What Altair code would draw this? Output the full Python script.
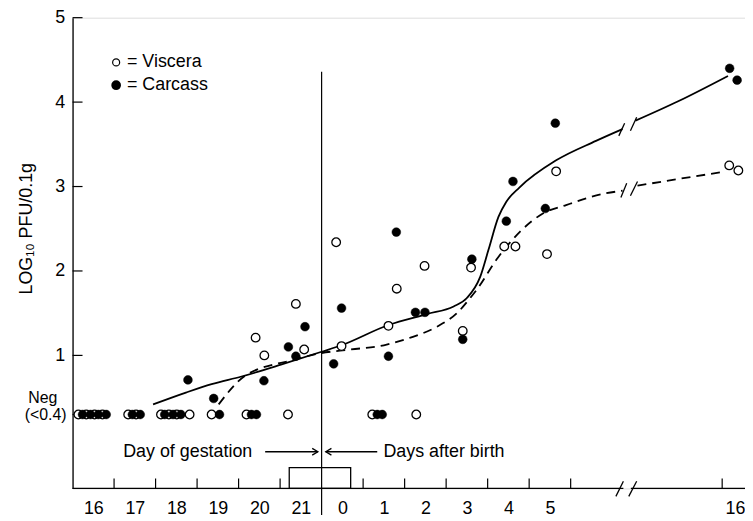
import json
import altair as alt
import pandas as pd

FONT = "Liberation Sans"

# ---- axis layout (x in "day slots": one unit = one day) ----
gest_labels = ["16", "17", "18", "19", "20", "21"]
gest_pos = [0.5, 1.5, 2.5, 3.5, 4.5, 5.5]
post_labels = ["0", "1", "2", "3", "4", "5", "16"]
post_pos = [6.5, 7.5, 8.5, 9.5, 10.5, 11.5, 15.96]
birth_pos = 6.0
x_tick_pos = [1, 2, 3, 4, 5, 7, 8, 9, 10, 11, 12, 15.65]
y_label_vals = [1, 2, 3, 4, 5]
y_tick_vals = [0.3, 1, 2, 3, 4, 5]
X_MAX = 16.2
Y_MIN = -0.576
Y_MAX = 5

# ---- data: log10 PFU / 0.1 g ----
carcass_x = [2.78, 3.40, 4.61, 5.20, 5.38, 5.60, 6.29, 6.48, 7.61, 7.80, 8.26, 8.49,
             9.40, 9.62, 10.45, 10.61, 11.39, 11.63, 15.83, 16.01]
carcass_y = [0.71, 0.49, 0.70, 1.10, 0.99, 1.34, 0.90, 1.56, 0.99, 2.46, 1.51, 1.51,
             1.19, 2.14, 2.59, 3.06, 2.74, 3.75, 4.40, 4.26]
viscera_x = [4.41, 4.62, 5.38, 5.58, 6.35, 6.48, 7.61, 7.81, 8.48, 9.40, 9.60, 10.40,
             10.67, 11.43, 11.65, 15.82, 16.04]
viscera_y = [1.21, 1.00, 1.61, 1.07, 2.34, 1.11, 1.35, 1.79, 2.06, 1.29, 2.04, 2.29,
             2.29, 2.20, 3.18, 3.25, 3.19]
NEG = 0.3
neg_viscera_x = [0.14, 0.33, 0.53, 0.72, 1.34, 1.53, 2.13, 2.32, 2.51, 2.82, 3.35,
                 4.19, 5.19, 7.22, 8.28]
neg_carcass_x = [0.24, 0.43, 0.62, 0.81, 1.44, 1.63, 2.22, 2.42, 2.61, 3.54, 4.31,
                 4.43, 7.34, 7.46]

# fitted curves (solid = carcass, dashed = viscera), broken at the axis break
solid_x1 = [1.94, 2.73, 3.35, 4.07, 5.02, 5.98, 6.48, 7.61, 8.54, 9.18, 9.50, 9.82,
            10.02, 10.26, 10.45, 10.77, 11.65, 12.61, 13.25]
solid_y1 = [0.42, 0.56, 0.66, 0.75, 0.89, 1.04, 1.12, 1.36, 1.49, 1.58, 1.68, 1.93,
            2.25, 2.64, 2.82, 2.99, 3.31, 3.54, 3.68]
solid_x2 = [13.56, 14.59, 15.79]
solid_y2 = [3.78, 4.01, 4.31]
dashed_x1 = [3.52, 4.16, 5.35, 5.91, 6.71, 7.50, 8.14, 8.78, 9.26, 9.58, 9.74, 10.25,
             10.77, 11.33, 11.89, 12.85, 13.25]
dashed_y1 = [0.42, 0.76, 0.95, 1.02, 1.07, 1.12, 1.21, 1.34, 1.50, 1.68, 1.78, 2.16,
             2.46, 2.68, 2.78, 2.92, 2.95]
dashed_x2 = [13.61, 14.60, 15.64]
dashed_y2 = [3.01, 3.09, 3.17]

# break marks (pairs of slashes)
slash_x = [13.09, 13.40, 13.16, 13.44, 13.21, 13.44]
slash_x2 = [13.27, 13.59, 13.30, 13.59, 13.35, 13.61]
slash_y = [-0.67, -0.67, 3.60, 3.66, 2.87, 2.89]
slash_y2 = [-0.49, -0.49, 3.75, 3.82, 3.04, 3.06]

# ---- build tables ----
pos_all = gest_pos + post_pos
lab_all = gest_labels + post_labels
label_expr = f"{json.dumps(lab_all)}[indexof({json.dumps(pos_all)}, datum.value)]"

xs = alt.Scale(domain=[0, X_MAX], nice=False, zero=False)
ys = alt.Scale(domain=[Y_MIN, Y_MAX], nice=False, zero=False)
xaxis = alt.Axis(values=pos_all, labelExpr=label_expr, ticks=False, domain=False,
                 grid=False, title=None, labelFontSize=18, labelPadding=11,
                 labelOverlap=False, labelFlush=False, labelBound=False)
yaxis = alt.Axis(values=y_label_vals, ticks=False, domain=True, domainColor="black",
                 domainWidth=1.3, grid=False, labelFontSize=18, labelPadding=8,
                 title="LOG₁₀ PFU/0.1g", titleFontSize=18, titleFontWeight="normal",
                 titleAngle=270, titleX=-46, titleY=212, titleAlign="center",
                 titleBaseline="middle")


def X(f="x"):
    return alt.X(f"{f}:Q", scale=xs, axis=xaxis)


def Y(f="y"):
    return alt.Y(f"{f}:Q", scale=ys, axis=yaxis)


curve_rows = []
for name, seg, xx, yy in [("solid", 1, solid_x1, solid_y1), ("solid", 2, solid_x2, solid_y2),
                          ("dashed", 1, dashed_x1, dashed_y1), ("dashed", 2, dashed_x2, dashed_y2)]:
    for a, b in zip(xx, yy):
        curve_rows.append({"x": a, "y": b, "curve": name, "seg": seg})
curves = pd.DataFrame(curve_rows)

open_df = pd.DataFrame({"x": viscera_x + neg_viscera_x,
                        "y": viscera_y + [NEG] * len(neg_viscera_x)})
fill_df = pd.DataFrame({"x": carcass_x + neg_carcass_x,
                        "y": carcass_y + [NEG] * len(neg_carcass_x)})

tick_len_y = 0.118
tick_len_x = 0.24
xticks = pd.DataFrame({"x": x_tick_pos, "y": [Y_MIN] * len(x_tick_pos),
                       "y2": [Y_MIN + tick_len_y] * len(x_tick_pos)})
yticks = pd.DataFrame({"x": [0] * len(y_tick_vals), "x2": [tick_len_x] * len(y_tick_vals),
                       "y": y_tick_vals})
xdomain = pd.DataFrame({"x": [0, 13.45], "x2": [13.27, X_MAX], "y": [Y_MIN, Y_MIN]})
slashes = pd.DataFrame({"x": slash_x, "x2": slash_x2, "y": slash_y, "y2": slash_y2})
birth = pd.DataFrame({"x": [birth_pos], "y": [4.36], "y2": [-0.89]})
box = pd.DataFrame({"x": [5.22], "x2": [6.70], "y": [Y_MIN], "y2": [-0.33]})
arrows = pd.DataFrame({"x": [4.64, 6.10], "x2": [5.91, 7.34], "y": [-0.141, -0.141]})
heads_r = pd.DataFrame({"x": [5.91], "y": [-0.141]})
heads_l = pd.DataFrame({"x": [6.10], "y": [-0.141]})
notes = pd.DataFrame({"x": [1.22, 7.49], "y": [-0.141, -0.141],
                      "t": ["Day of gestation", "Days after birth"]})
legend_txt = pd.DataFrame({"x": [1.31, 1.31], "y": [4.47, 4.20],
                           "t": ["= Viscera", "= Carcass"]})
legend_open = pd.DataFrame({"x": [1.05], "y": [4.47]})
legend_fill = pd.DataFrame({"x": [1.05], "y": [4.20]})
neg_lab = pd.DataFrame({"y": [0.50], "t": ["Neg"]})
neg_lab2 = pd.DataFrame({"y": [0.29], "t": ["(<0.4)"]})

BLACK = "black"
layers = [
    alt.Chart(xdomain).mark_rule(color=BLACK, strokeWidth=1.3).encode(x=X(), x2="x2", y=Y()),
    alt.Chart(xticks).mark_rule(color=BLACK, strokeWidth=1.2).encode(x=X(), y=Y(), y2="y2"),
    alt.Chart(yticks).mark_rule(color=BLACK, strokeWidth=1.2).encode(x=X(), x2="x2", y=Y()),
    alt.Chart(box).mark_rect(fillOpacity=0, stroke=BLACK, strokeWidth=1.3).encode(
        x=X(), x2="x2", y=Y(), y2="y2"),
    alt.Chart(birth).mark_rule(color=BLACK, strokeWidth=1.2).encode(x=X(), y=Y(), y2="y2"),
    alt.Chart(slashes).mark_rule(color=BLACK, strokeWidth=1.3).encode(
        x=X(), x2="x2", y=Y(), y2="y2"),
    alt.Chart(curves[curves.curve == "solid"]).mark_line(
        color=BLACK, strokeWidth=1.8, interpolate="monotone").encode(
        x=X(), y=Y(), detail="seg:N"),
    alt.Chart(curves[curves.curve == "dashed"]).mark_line(
        color=BLACK, strokeWidth=1.8, strokeDash=[9, 6], interpolate="monotone").encode(
        x=X(), y=Y(), detail="seg:N"),
    alt.Chart(open_df).mark_point(shape="circle", filled=True, fill="white", stroke=BLACK,
                                  strokeWidth=1.3, size=75, opacity=1).encode(x=X(), y=Y()),
    alt.Chart(fill_df).mark_point(shape="circle", filled=True, fill=BLACK, stroke=BLACK,
                                  strokeWidth=0.5, size=78, opacity=1).encode(x=X(), y=Y()),
    alt.Chart(arrows).mark_rule(color=BLACK, strokeWidth=1.3).encode(x=X(), x2="x2", y=Y()),
    alt.Chart(heads_r).mark_point(shape="M -1 -0.6 L 0 0 L -1 0.6", filled=False,
                                  color=BLACK, strokeWidth=1.3, size=130, opacity=1).encode(
        x=X(), y=Y()),
    alt.Chart(heads_l).mark_point(shape="M 1 -0.6 L 0 0 L 1 0.6", filled=False,
                                  color=BLACK, strokeWidth=1.3, size=130, opacity=1).encode(
        x=X(), y=Y()),
    alt.Chart(notes).mark_text(align="left", baseline="middle", fontSize=18, font=FONT,
                               color=BLACK).encode(x=X(), y=Y(), text="t:N"),
    alt.Chart(legend_open).mark_point(shape="circle", filled=True, fill="white", stroke=BLACK,
                                      strokeWidth=1.2, size=50, opacity=1).encode(x=X(), y=Y()),
    alt.Chart(legend_fill).mark_point(shape="circle", filled=True, fill=BLACK, stroke=BLACK,
                                      size=60, opacity=1).encode(x=X(), y=Y()),
    alt.Chart(legend_txt).mark_text(align="left", baseline="middle", fontSize=18, font=FONT,
                                    color=BLACK).encode(x=X(), y=Y(), text="t:N"),
    alt.Chart(neg_lab).mark_text(align="center", baseline="middle", fontSize=16, font=FONT,
                                 color=BLACK).encode(x=alt.value(-30), y=Y(), text="t:N"),
    alt.Chart(neg_lab2).mark_text(align="right", baseline="middle", fontSize=16, font=FONT,
                                  color=BLACK).encode(x=alt.value(-6), y=Y(), text="t:N"),
]

chart = alt.layer(*layers).properties(
    width=677, height=474,
    autosize=alt.AutoSizeParams(type="none"),
    padding={"left": 65, "top": 8, "right": 0, "bottom": 27},
).configure_view(stroke=None).configure_axis(
    labelFont=FONT, titleFont=FONT, labelColor=BLACK, titleColor=BLACK
).configure(background="white")

chart.save("out.html", embed_options={"renderer": "svg", "actions": False})
